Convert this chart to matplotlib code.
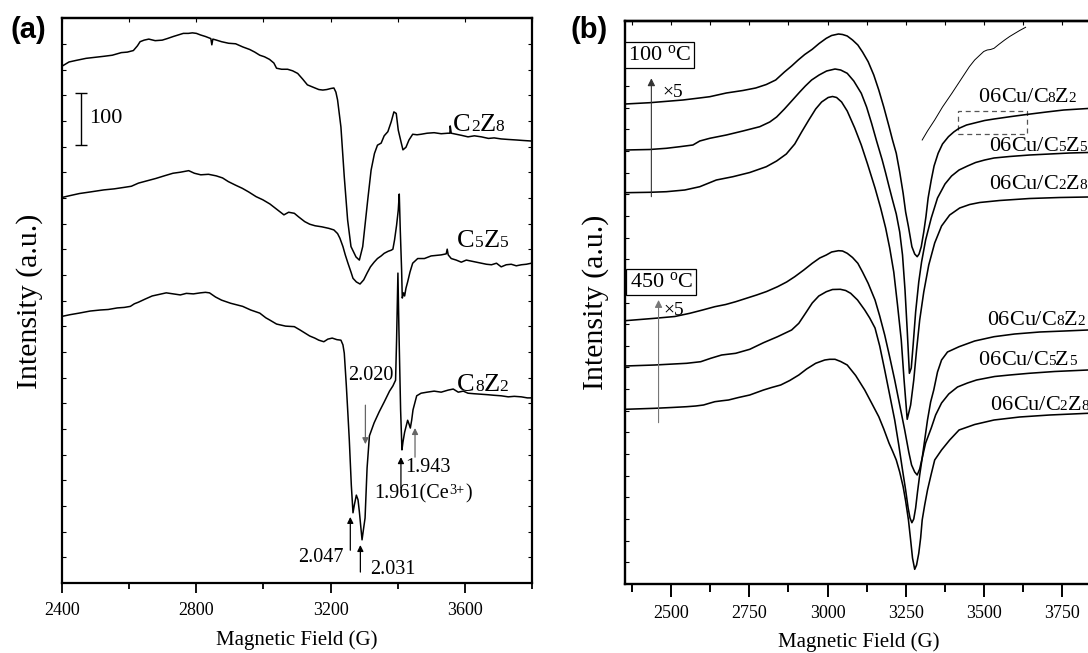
import numpy as np
import matplotlib
matplotlib.use("Agg")
import matplotlib.pyplot as plt
from matplotlib.offsetbox import TextArea, HPacker, AnnotationBbox
from matplotlib.ticker import NullFormatter
from matplotlib.patches import Rectangle

plt.rcParams['font.family'] = ['Liberation Serif', 'DejaVu Serif']
plt.rcParams['mathtext.fontset'] = 'custom'
plt.rcParams['mathtext.rm'] = 'Liberation Serif'
plt.rcParams['mathtext.it'] = 'Liberation Serif:italic'

# ---------------- Panel (a) data ----------------
a_labels = ['C2Z8', 'C5Z5', 'C8Z2']

c2z8_field = [2402,2420,2441,2471,2498,2525,2549,2576,2594,2612,2624,2632,2644,2658,2677,2698,2713,2731,2746,2761,
              2776,2788,2800,2812,2827,2843,2846,2849,2860,2875,2896,2917,2938,2959,2974,2989,3003,3018,3031,3039,
              3054,3072,3087,3102,3117,3131,3146,3165,3177,3189,3201,3210,3216,3221,3231,3241,3251,3261,3276,3286,
              3296,3311,3321,3331,3340,3351,3360,3371,3381,3389,3396,3402,3410,3416,3425,3434,3445,3458,3470,3488,
              3509,3530,3550,3556,3557,3560,3575,3590,3610,3629,3650,3671,3688,3709,3730,3754,3775,3799]
c2z8_int = [995,1002,1005,1009,1011,1013,1015,1020,1021,1024,1033,1041,1044,1046,1043,1044,1047,1051,1054,1057,
            1057,1058,1057,1054,1051,1047,1035,1046,1044,1041,1038,1037,1031,1026,1021,1015,1012,1007,1000,990,
            988,988,985,980,969,958,954,949,948,949,951,952,944,929,877,781,698,647,627,621,
            647,737,794,826,842,846,860,868,887,906,903,871,849,833,838,852,863,862,863,865,
            866,864,865,865,879,865,863,861,858,860,858,855,856,854,853,852,851,850]

c5z5_field = [2403,2423,2451,2483,2524,2555,2586,2606,2627,2650,2679,2704,2730,2752,2777,2794,2813,2836,2859,2878,
              2895,2917,2937,2956,2978,2998,3019,3039,3061,3075,3092,3105,3123,3138,3154,3174,3195,3210,3221,3228,
              3237,3244,3252,3261,3267,3277,3288,3299,3309,3319,3330,3340,3351,3360,3372,3381,3386,3391,3397,3402,
              3405,3408,3412,3414,3418,3421,3425,3430,3437,3445,3460,3480,3500,3530,3545,3548,3551,3560,3575,3590,
              3605,3620,3635,3650,3665,3680,3695,3709,3724,3739,3754,3769,3784,3799]
c5z5_int = [742,745,749,752,756,758,761,763,769,773,778,783,788,790,793,788,785,786,783,779,
            772,765,759,752,743,737,729,719,708,713,711,704,695,690,687,685,682,679,672,663,
            647,631,615,598,586,579,575,583,596,608,617,624,629,634,638,640,642,660,688,717,
            748,679,602,548,558,552,567,579,598,615,624,624,629,631,633,642,631,624,621,617,
            621,619,617,615,613,612,615,608,612,613,610,612,613,615]

c8z2_field = [2401,2423,2450,2483,2513,2537,2564,2585,2603,2615,2627,2647,2668,2689,2710,2731,2752,2770,2791,2812,
              2827,2839,2857,2875,2902,2938,2962,2989,3007,3018,3039,3066,3092,3108,3123,3138,3153,3165,3180,3192,
              3205,3219,3231,3237,3241,3247,3252,3256,3262,3267,3271,3277,3282,3286,3294,3298,3303,3309,3316,3330,
              3345,3360,3376,3386,3394,3397,3401,3404,3409,3413,3416,3421,3430,3434,3438,3442,3446,3457,3470,3488,
              3509,3530,3551,3566,3581,3596,3610,3628,3650,3671,3688,3709,3730,3748,3769,3787,3800]
c8z2_int = [513,516,519,523,525,526,529,530,532,537,540,546,552,555,558,556,554,557,556,558,
            559,558,550,544,538,532,525,519,510,506,498,494,493,487,481,475,471,467,464,469,
            471,468,467,458,442,381,323,275,188,135,150,169,160,137,83,102,125,221,283,308,
            329,348,369,379,390,467,596,487,333,256,271,290,313,306,298,313,333,360,365,367,
            369,367,371,373,367,369,365,364,363,362,361,360,358,359,358,356,356]

a_label_field = [3566, 3578, 3578]
a_label_int = [871, 647, 371]

# g-value annotations; each text is a list of (piece, is_superscript)
g_texts = [[('2.020', False)], [('1.943', False)],
           [('1.961(Ce', False), ('3+', True), (')', False)],
           [('2.047', False)], [('2.031', False)]]
g_text_field = [3252, 3422, 3330, 3240, 3318]
g_text_int = [390, 213, 161, 40, 17]
g_text_ha = ['left', 'left', 'left', 'right', 'left']
g_arrow_field = [3304, 3452, 3410, 3259, 3289]
g_arrow_tail = [342, 242, 183, 63, 21]
g_arrow_tip = [267, 298, 242, 127, 73]
g_arrow_color = ['#666666', '#666666', 'black', 'black', 'black']

scale_field = 2455
scale_int = [843, 943]
scale_text = '100'

# ---------------- Panel (b) data ----------------
b_labels = ['06Cu/C8Z2', '06Cu/C5Z5', '06Cu/C2Z8', '06Cu/C8Z2', '06Cu/C5Z5', '06Cu/C2Z8']
b_label_field = [3483, 3516, 3516, 3511, 3483, 3522]
b_label_int = [482, 433, 394.5, 259, 219, 174]

b1_field = [2352,2431,2537,2582,2623,2676,2729,2770,2804,2834,2862,2885,2906,2927,2951,2973,2996,3013,3035,3048,
            3063,3080,3097,3112,3130,3148,3164,3180,3197,3208,3220,3231,3242,3250,3259,3270,3279,3287,3293,3300,
            3308,3315,3322,3332,3341,3354,3368,3387,3404,3421,3445,3477,3503,3533,3589,3637,3701,3756,3833,3948]
b1_int = [480,481.3,484,485.7,487.3,491,493.5,496,499.5,504,512,518,524,529.5,534.7,540.5,545.7,548.5,550,549.5,
          548,544,539,532,522.3,509,494,477,457.3,444,430.7,412,390.7,372,357.3,337.3,330,327.3,330,337.3,
          352,367.3,386,404,418,430.7,440,447.3,452,455.7,459,461.5,463.5,465,467.5,469.5,472,474,475.5,476.5]

b2_field = [2352,2431,2484,2527,2569,2591,2623,2676,2729,2783,2815,2837,2862,2888,2911,2929,2949,2973,2997,3024,
            3042,3063,3084,3108,3125,3141,3157,3175,3186,3197,3208,3220,3231,3240,3248,3255,3262,3268,3274,3282,
            3292,3301,3314,3332,3352,3376,3397,3421,3448,3474,3503,3533,3583,3647,3711,3775,3833,3948]
b2_int = [434,434.5,435.7,437.3,439,443,445.7,449,453,457.3,462,467,475,484,492,498,504,509,513,515,
          514,510.7,503,490.7,477,460.7,443,424,411,397.3,384,370,352,329,294,254,210.7,216,239,272,
          302,322,344,366,386,400,408,414,418,421.5,424,426,427.5,429,430,431,431.5,432]

b3_field = [2352,2431,2484,2543,2591,2644,2697,2751,2804,2837,2868,2895,2917,2940,2962,2981,3002,3016,3029,3045,
            3063,3087,3108,3128,3152,3170,3186,3199,3212,3224,3236,3245,3255,3266,3276,3285,3295,3308,3324,3343,
            3365,3391,3423,3455,3487,3551,3647,3743,3833,3948]
b3_int = [391.3,391.7,392.3,394,397.3,404,407.3,411.5,417.3,423,430,440,452,464,475,482,486.5,487.5,486.5,482,
          473,456,439,420,396,376,356,336,312,279,244,204,164.7,179,204,234,264,292,319,341,
          358,369,376,379.5,381.5,383.5,385.5,386.5,387,387.5]

b4_field = [2352,2447,2511,2559,2600,2639,2674,2706,2738,2773,2805,2840,2869,2895,2924,2951,2975,2996,3013,3035,
            3048,3063,3080,3097,3112,3130,3152,3167,3183,3199,3215,3231,3247,3260,3269,3279,3287,3295,3303,3311,
            3320,3330,3340,3352,3365,3384,3421,3471,3533,3599,3679,3759,3833,3948]
b4_int = [263.3,265.7,267.5,270.7,274,277.3,279.5,282.3,285.5,289,292.5,297.3,302,307.3,314,320.7,326,329,332,333.3,
          333,330.7,326.5,320.7,312,300.7,284,268,249,227,204,179,154,132,119,112,109,115,126,144,
          164,182,194,212,224,232,237.3,243,247.3,250,252,253,254,254.5]

b5_field = [2352,2447,2549,2594,2626,2661,2706,2751,2795,2840,2885,2908,2930,2951,2972,2996,3016,3041,3058,3074,
            3096,3119,3135,3152,3167,3183,3199,3215,3228,3240,3250,3258,3264,3270,3276,3282,3288,3295,3303,3314,
            3332,3346,3365,3388,3416,3448,3477,3535,3583,3645,3727,3833,3948]
b5_int = [218,219,220.7,222.3,225.7,229,230.7,234.7,241.3,247.3,254,260.7,271,281,288,292.3,294.5,294.7,293.5,290.7,
          284,274,266,256,238,214,189,164,139,114,94,76,66,61.3,65,76,92,109,126,141,
          156,169,181,190,197,201,204,207.5,209,210.7,212.5,214,214.5]

b6_field = [2352,2447,2501,2549,2578,2603,2619,2639,2661,2683,2715,2751,2773,2795,2821,2850,2879,2908,2933,2962,
            2991,3007,3024,3042,3063,3090,3119,3141,3164,3180,3197,3208,3220,3231,3242,3250,3259,3266,3272,3279,
            3285,3292,3298,3303,3311,3320,3332,3343,3365,3391,3421,3471,3533,3615,3711,3833,3948]
b6_int = [174.7,175.7,176.5,177.3,178,179,180.5,182.3,183.2,184,186.5,189,191.5,194,196.5,199,203.5,209,215,220.7,
          224,224.7,224.7,222.5,219,208.5,194,181,167.3,155,140.7,133,124,112,97.3,83,64,44,26,14.7,
          19,30.7,46,64,79,94,110,124,134,144,154,159.5,164,167,169,170.7,171]

zoom_field = [3303,3320,3343,3368,3398,3426,3454,3471,3488,3500,3511,3522,3533,3548,3567,3583,3600,3615,3634]
zoom_int = [444,453,464,477,490.7,504,517.3,524,529,532.5,534,534.5,535.7,539.5,544,547.5,550.7,553.5,556.7]
zoom_box_field = [3418, 3637]
zoom_box_int = [450, 473.3]

temp_texts = ['100 $^{\\mathrm{o}}$C', '450 $^{\\mathrm{o}}$C']
temp_field = [2462, 2467]
temp_int = [529, 302]
x5_arrow_field = [2436, 2459]
x5_arrow_tail = [387.3, 161.3]
x5_arrow_tip = [505.7, 284]
x5_arrow_color = ['#333333', '#777777']
x5_text_field = [2472, 2475]
x5_text_int = [487, 269]

SERIF = 'Liberation Serif'


# ---------------- helpers ----------------
def place_box(ax, box, x, y, size, ha='left'):
    ab = AnnotationBbox(box, (x, y), xycoords='data', xybox=(0, -0.22 * size),
                        boxcoords='offset points', frameon=False,
                        box_alignment=(0 if ha == 'left' else 1, 0),
                        pad=0, annotation_clip=False)
    ax.add_artist(ab)


def chem_label(ax, x, y, text, big, small):
    children = []
    prev = ''
    for ch in text:
        is_small = ch.isdigit() and prev.isalpha()
        children.append(TextArea(ch, textprops=dict(fontsize=small if is_small else big,
                                                    family=SERIF, color='black')))
        prev = ch
    place_box(ax, HPacker(children=children, align='baseline', pad=0, sep=0), x, y, big)


def sup_label(ax, x, y, pieces, size, ha):
    children = [TextArea(t, textprops=dict(fontsize=size * 0.7 if sup else size,
                                           family=SERIF, color='black'))
                for t, sup in pieces]
    place_box(ax, HPacker(children=children, align='top', pad=0, sep=0.5), x, y, size, ha)


W, H = 1088, 653
fig = plt.figure(figsize=(W / 100, H / 100), dpi=100)

# ---------------- Panel (a) ----------------
axA = fig.add_axes([62.3 / W, 70 / H, (531.7 - 62.3) / W, (583 - 18.3) / H])
for f, v in [(c2z8_field, c2z8_int), (c5z5_field, c5z5_int), (c8z2_field, c8z2_int)]:
    axA.plot(f, v, color='black', lw=1.1)
axA.set_xlim(2400, 3800)
axA.set_ylim(0, 1086)
axA.set_xticks([2400, 2800, 3200, 3600])
axA.set_xticks([2600, 3000, 3400, 3800], minor=True)
axA.tick_params(axis='x', which='major', direction='out', length=7.5, width=1.3,
                labelsize=13, pad=6, top=False)
axA.tick_params(axis='x', which='minor', direction='out', length=4.5, width=1.3, top=False)
axA.set_yticks(np.linspace(0, 1086, 23)[1:-1])
axA.tick_params(axis='y', which='both', direction='in', length=3, width=0.8,
                left=True, right=True, labelleft=False)
for s in axA.spines.values():
    s.set_linewidth(1.6)
secA = axA.secondary_xaxis('top')
secA.set_xticks(np.arange(2400, 3801, 200))
secA.tick_params(direction='in', length=3, width=0.8)
secA.xaxis.set_major_formatter(NullFormatter())
secA.spines['top'].set_linewidth(1.6)

for lab, x, y in zip(a_labels, a_label_field, a_label_int):
    chem_label(axA, x, y, lab, 19, 12.5)

for t, tx, ty, ha, axx, tail, tip, col in zip(g_texts, g_text_field, g_text_int, g_text_ha,
                                             g_arrow_field, g_arrow_tail, g_arrow_tip, g_arrow_color):
    sup_label(axA, tx, ty, t, 14.5, ha)
    axA.annotate('', xy=(axx, tip), xytext=(axx, tail),
                 arrowprops=dict(arrowstyle='-|>', color=col, lw=0.9, mutation_scale=9,
                                 shrinkA=0, shrinkB=0))

axA.errorbar([scale_field], [np.mean(scale_int)], yerr=[(scale_int[1] - scale_int[0]) / 2],
             fmt='none', ecolor='black', elinewidth=1.0, capsize=4.5, capthick=1.0)
axA.text(2481, np.mean(scale_int), scale_text, ha='left', va='center', fontsize=16)

# ---------------- Panel (b) ----------------
axB = fig.add_axes([624.5 / W, 69 / H, 499.8 / W, 563 / H])
for f, v in [(b1_field, b1_int), (b2_field, b2_int), (b3_field, b3_int),
             (b4_field, b4_int), (b5_field, b5_int), (b6_field, b6_int)]:
    axB.plot(f, v, color='black', lw=1.15)
axB.plot(zoom_field, zoom_int, color='black', lw=0.7)
axB.add_patch(Rectangle((zoom_box_field[0], zoom_box_int[0]), zoom_box_field[1] - zoom_box_field[0],
                        zoom_box_int[1] - zoom_box_int[0], fill=False, ls=(0, (4, 3)),
                        ec='#555555', lw=0.9))
axB.set_xlim(2350, 3950)
axB.set_ylim(0, 563)
axB.set_xticks(np.arange(2500, 3751, 250))
axB.set_xticks(np.arange(2375, 3950, 250), minor=True)
axB.tick_params(axis='x', which='major', direction='out', length=9, width=1.4,
                labelsize=13, pad=6, top=False)
axB.tick_params(axis='x', which='minor', direction='out', length=5.5, width=1.4, top=False)
axB.set_yticks(np.linspace(0, 563, 27)[1:-1])
axB.tick_params(axis='y', which='both', direction='in', length=3, width=0.8,
                left=True, right=False, labelleft=False)
for s in axB.spines.values():
    s.set_linewidth(1.7)
secB = axB.secondary_xaxis('top')
secB.set_xticks(np.arange(2375, 3950, 125))
secB.tick_params(direction='in', length=3, width=0.8)
secB.xaxis.set_major_formatter(NullFormatter())
secB.spines['top'].set_linewidth(1.7)

for lab, x, y in zip(b_labels, b_label_field, b_label_int):
    chem_label(axB, x, y, lab, 16, 11)

for t, x, y in zip(temp_texts, temp_field, temp_int):
    axB.text(x, y, t, ha='center', va='center', fontsize=16,
             bbox=dict(boxstyle='square,pad=0.15', fc='white', ec='black', lw=0.9))
for axx, tail, tip, col, tx, ty in zip(x5_arrow_field, x5_arrow_tail, x5_arrow_tip, x5_arrow_color,
                                       x5_text_field, x5_text_int):
    axB.annotate('', xy=(axx, tip), xytext=(axx, tail),
                 arrowprops=dict(arrowstyle='-|>', color=col, lw=0.8, mutation_scale=11,
                                 shrinkA=0, shrinkB=0))
    axB.text(tx, ty, '×5', ha='left', va='baseline', fontsize=14)

# ---------------- Figure texts ----------------
fig.text(30 / W, 1 - 301 / H, 'Intensity (a.u.)', rotation=90, ha='center', va='center', fontsize=21.5)
fig.text(596 / W, 1 - 302 / H, 'Intensity (a.u.)', rotation=90, ha='center', va='center', fontsize=21.5)
fig.text(296.7 / W, 1 - 640 / H, 'Magnetic Field (G)', ha='center', va='center', fontsize=15)
fig.text(859 / W, 1 - 642 / H, 'Magnetic Field (G)', ha='center', va='center', fontsize=15)
fig.text(10 / W, 1 - 30 / H, '(a)', ha='left', va='center', fontsize=21,
         family='Liberation Sans', weight='bold')
fig.text(571 / W, 1 - 30 / H, '(b)', ha='left', va='center', fontsize=21,
         family='Liberation Sans', weight='bold')

fig.savefig('out.png', dpi=100)
